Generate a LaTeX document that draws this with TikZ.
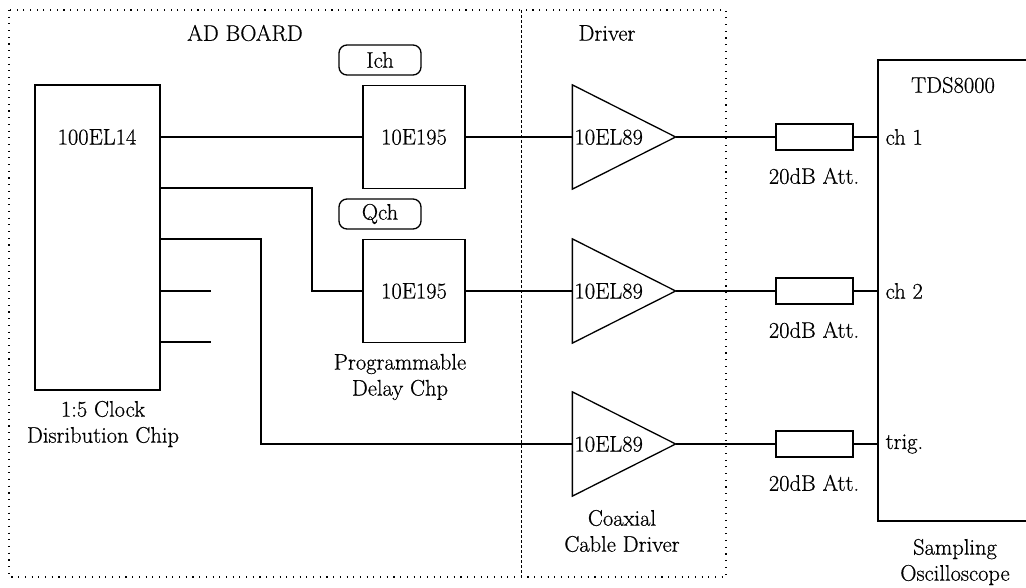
\documentclass[tikz,border=0pt]{standalone}
\usepackage{fontspec}
\setmainfont{Latin Modern Roman}[FakeBold=0.6]
\begin{document}
\begin{tikzpicture}[x=1pt,y=-1pt,line width=1.3pt,
  font=\fontsize{22.5}{26}\selectfont,
  chip/.style={draw,rectangle,inner sep=0pt},
  tag/.style={draw,rectangle,rounded corners=8pt,inner sep=0pt,minimum width=82pt,minimum height=30pt},
  ampbox/.style={rectangle,inner sep=0pt,minimum width=102pt,minimum height=103pt},
  att/.style={draw,rectangle,inner sep=0pt,minimum width=77pt,minimum height=26pt},
  txt/.style={inner sep=0pt,align=center},
  dotline/.style={line width=1.1pt,dash pattern=on 1.1pt off 5.6pt},
  dashline/.style={line width=1pt,dash pattern=on 3pt off 2pt}]
\useasboundingbox (0,0) rectangle (1026,588);
\clip (0,0) rectangle (1026,588);
% boards
\draw[dotline] (9,10) rectangle (726,577);
\draw[dashline] (521,10) -- (521,577);
\node[txt] (adb) at (245,33) {AD BOARD};
\node[txt] (drv) at (607,33) {Driver};
% clock chip
\node[chip,minimum width=125pt,minimum height=305pt] (clk) at (97.5,237.5) {};
\node[txt] (clkt) at (97,137) {100EL14};
\node[txt] (clkl) at (103,424) {1:5 Clock\\Disribution Chip};
% delay chips
\node[chip,minimum width=102pt,minimum height=103pt] (di) at (414,137) {10E195};
\node[chip,minimum width=102pt,minimum height=103pt] (dq) at (414,291) {10E195};
\node[tag] (ich) at (380,60) {Ich};
\node[tag] (qch) at (380,214) {Qch};
\node[txt] (dlab) at (400,377) {Programmable\\Delay Chp};
% amplifiers
\foreach \n/\y in {a1/137,a2/291,a3/444}{
  \node[ampbox] (\n) at (624,\y) {};
  \draw (\n.north west) -- (\n.east) -- (\n.south west) -- cycle;
  \node[txt,anchor=west] (\n t) at ([xshift=1.5pt]\n.west) {10EL89};
}
\node[txt] (clab) at (622,531) {Coaxial\\Cable Driver};
% attenuators
\foreach \n/\y in {t1/137,t2/291,t3/444}{
  \node[att] (\n) at (814.5,\y) {};
  \node[txt] (\n l) at (814,\y+39) {20dB Att.};
}
% scope
\coordinate (stl) at (878,60);
\coordinate (sbl) at (878,521);
\draw (1040,60) -- (stl) -- (sbl) -- (1040,521);
\node[txt] (tds) at (953,85) {TDS8000};
\node[txt,anchor=west] (c1) at (885,137) {ch 1};
\node[txt,anchor=west] (c2) at (885,291) {ch 2};
\node[txt,anchor=west] (c3) at (885,444) {trig.};
\node[txt] (slab) at (955,562) {Sampling\\Oscilloscope};
% wires
\coordinate (o2) at (160,188);
\coordinate (o3) at (160,239);
\coordinate (o4) at (160,291);
\coordinate (o5) at (160,342);
\coordinate (s4) at (211,291);
\coordinate (s5) at (211,342);
\coordinate (b2) at (312,188);
\coordinate (b3) at (261,239);
\draw (clk.east |- di.west) -- (di.west);
\draw (o2) -- (b2) |- (dq.west);
\draw (o3) -- (b3) |- (a3.west);
\draw (o4) -- (s4);
\draw (o5) -- (s5);
\draw (di.east) -- (a1.west);
\draw (dq.east) -- (a2.west);
\draw (a1.east) -- (t1.west);
\draw (a2.east) -- (t2.west);
\draw (a3.east) -- (t3.west);
\draw (t1.east) -- (stl |- t1.east);
\draw (t2.east) -- (stl |- t2.east);
\draw (t3.east) -- (stl |- t3.east);
\end{tikzpicture}
\end{document}
